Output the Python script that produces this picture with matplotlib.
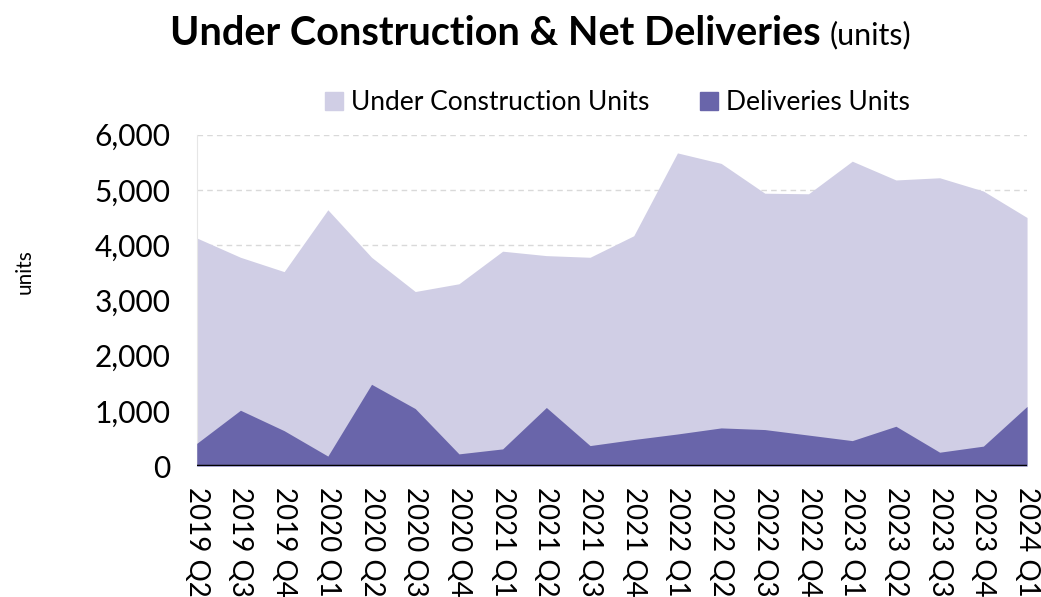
import matplotlib
matplotlib.use('Agg')
import matplotlib.pyplot as plt
from matplotlib.patches import Patch
from matplotlib.ticker import FuncFormatter

quarters = ['2019 Q2', '2019 Q3', '2019 Q4', '2020 Q1', '2020 Q2', '2020 Q3',
            '2020 Q4', '2021 Q1', '2021 Q2', '2021 Q3', '2021 Q4', '2022 Q1',
            '2022 Q2', '2022 Q3', '2022 Q4', '2023 Q1', '2023 Q2', '2023 Q3',
            '2023 Q4', '2024 Q1']
under_construction = [4130, 3780, 3520, 4640, 3780, 3160, 3300, 3890, 3810, 3780,
                      4170, 5670, 5480, 4940, 4930, 5520, 5180, 5220, 4980, 4500]
deliveries = [410, 1010, 640, 180, 1480, 1040, 220, 310, 1060, 370,
              480, 580, 690, 660, 560, 460, 720, 250, 360, 1080]
yticks = [0, 1000, 2000, 3000, 4000, 5000, 6000]

uc_col = '#D0CEE5'
del_col = '#6965AA'
plt.rcParams['font.family'] = ['Lato', 'DejaVu Sans']

fig = plt.figure(figsize=(10.41, 5.97), dpi=100)
ax = fig.add_axes([0.189, 0.2194, 0.7976, 0.555])

x = list(range(len(quarters)))
ax.fill_between(x, 0, under_construction, color=uc_col, lw=0, zorder=2)
ax.fill_between(x, 0, deliveries, color=del_col, lw=0, zorder=3)
ax.axhline(0, color='black', lw=2.5, zorder=4)

ax.set_xlim(0, len(quarters) - 1)
ax.set_ylim(0, 6000)
ax.set_yticks(yticks)
ax.yaxis.set_major_formatter(FuncFormatter(lambda v, p: '{:,.0f}'.format(v)))
ax.grid(axis='y', color='#D9D9D9', ls=(0, (4, 3)), lw=1, zorder=1)
ax.set_axisbelow(True)
ax.set_xticks(x)
ax.set_xticklabels(quarters, rotation=-90, fontsize=20)
ax.tick_params(axis='y', labelsize=21.5, length=0, pad=19)
ax.tick_params(axis='x', length=0, pad=15)
for s in ['top', 'right', 'bottom']:
    ax.spines[s].set_visible(False)
ax.spines['left'].set_color('#E6E6E6')

fig.text(0.014, 0.545, 'units', rotation=90, fontsize=15, ha='left', va='center')

# title: bold part followed by a smaller regular "(units)"
t1 = fig.text(0.163, 0.925, 'Under Construction & Net Deliveries', fontsize=28.5,
              fontweight='bold', ha='left', va='baseline')
fig.canvas.draw()
bb = t1.get_window_extent()
fig.text((bb.x1 + 9) / fig.bbox.width, 0.925, '(units)', fontsize=22,
         ha='left', va='baseline')

handles = [Patch(color=uc_col, label='Under Construction Units'),
           Patch(color=del_col, label='Deliveries Units')]
fig.legend(handles=handles, loc='center', bbox_to_anchor=(0.593, 0.828), ncol=2,
           frameon=False, fontsize=19, handlelength=0.7, handleheight=0.7,
           handletextpad=0.3, columnspacing=1.9)

plt.savefig('out.png', dpi=100)
